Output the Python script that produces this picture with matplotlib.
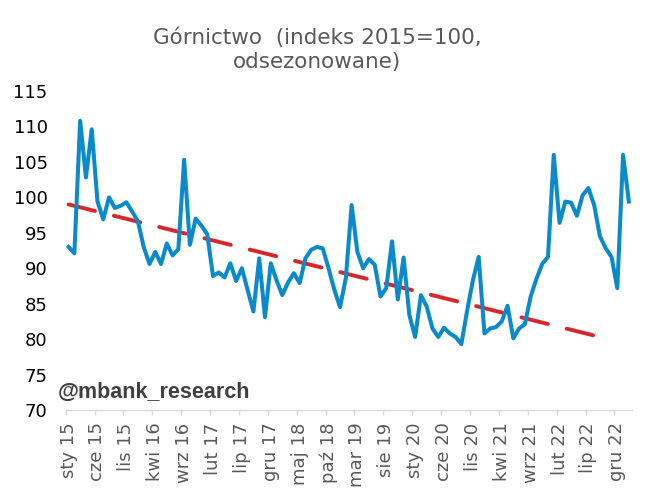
import matplotlib
matplotlib.use("Agg")
import matplotlib.pyplot as plt
import numpy as np

# monthly index, sty 15 .. lut 23
values = [93.0, 92.1, 110.8, 102.8, 109.6, 99.4, 96.9, 100.0, 98.5, 98.8,
          99.3, 98.0, 96.6, 93.0, 90.6, 92.3, 90.6, 93.5, 91.8, 92.7,
          105.3, 93.3, 97.0, 96.0, 94.8, 88.9, 89.4, 88.7, 90.7, 88.2,
          90.0, 86.9, 83.9, 91.4, 83.1, 90.7, 88.3, 86.2, 88.0, 89.3,
          87.9, 91.4, 92.6, 93.0, 92.8, 90.0, 87.0, 84.5, 88.6, 98.9,
          92.3, 90.0, 91.3, 90.5, 86.0, 87.2, 93.8, 85.6, 91.5, 83.4,
          80.3, 86.2, 84.6, 81.5, 80.3, 81.6, 80.8, 80.3, 79.3, 84.0,
          88.3, 91.6, 80.8, 81.5, 81.7, 82.5, 84.7, 80.1, 81.5, 82.1,
          86.0, 88.5, 90.6, 91.6, 106.0, 96.4, 99.4, 99.25, 97.4, 100.3,
          101.3, 98.9, 94.5, 92.8, 91.6, 87.2, 106.0, 99.4]

# trend line end points (month index, value)
trend_x = [0, 92]
trend_y = [99.0, 80.3]

tick_labels = ['sty 15', 'cze 15', 'lis 15', 'kwi 16', 'wrz 16', 'lut 17', 'lip 17',
               'gru 17', 'maj 18', 'paź 18', 'mar 19', 'sie 19', 'sty 20', 'cze 20',
               'lis 20', 'kwi 21', 'wrz 21', 'lut 22', 'lip 22', 'gru 22']

x = np.arange(len(values))

fig = plt.figure(figsize=(6.52, 5.03), dpi=100)
ax = fig.add_axes([0.1008, 0.1849, 0.8681, 0.6342])

ax.plot(x, values, color='#0A8ACB', lw=2.9, solid_joinstyle='round', zorder=3)
ax.plot(trend_x, trend_y, color='#D9262B', lw=2.8, dashes=(7, 5),
        dash_capstyle='round', zorder=2)

ax.set_xlim(-0.5, len(values) - 0.5)
ax.set_ylim(70, 115)
ax.set_yticks(np.arange(70, 116, 5))
ax.set_xticks(np.arange(0, 5 * len(tick_labels), 5))
ax.set_xticklabels(tick_labels, rotation=90, color='#595959', fontsize=13)
ax.set_xticks(np.arange(-0.5, 5 * len(tick_labels) - 0.5, 5), minor=True)

ax.tick_params(axis='x', which='major', length=0, pad=9)
ax.tick_params(axis='x', which='minor', length=3.6, color='#D9D9D9', width=1)
ax.tick_params(axis='y', length=0, pad=13, labelsize=13, labelcolor='black')

for s in ['top', 'right', 'left']:
    ax.spines[s].set_visible(False)
ax.spines['bottom'].set_color('#D9D9D9')
ax.spines['bottom'].set_linewidth(1)

fig.text(0.486, 0.902, 'Górnictwo  (indeks 2015=100,\nodsezonowane)',
         ha='center', va='center', fontsize=15.5, color='#595959', linespacing=1.25)

fig.text(0.089, 0.219, '@mbank_research', family='Liberation Sans',
         fontweight='bold', fontsize=15.5, color='#404040', ha='left', va='center')

fig.savefig('out.png', dpi=100)
